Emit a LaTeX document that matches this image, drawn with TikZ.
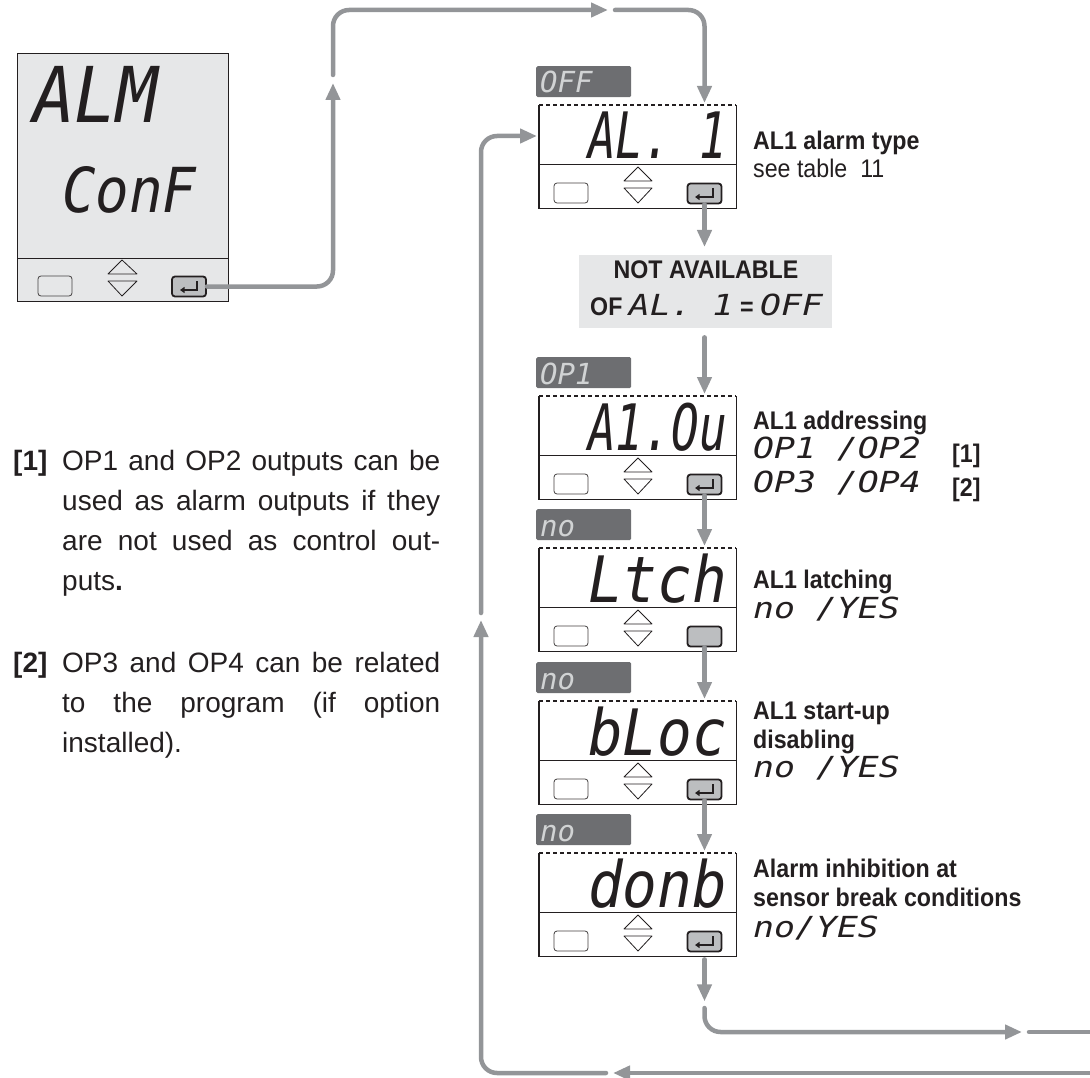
\documentclass[tikz,border=0pt]{standalone}
\usepackage{fontspec}
\setmainfont{Liberation Sans}
\newfontfamily\cndfam[FakeStretch=0.91]{Liberation Sans}
\newfontfamily\segnar[FakeStretch=0.72]{DejaVu Sans Mono}
\newfontfamily\segwid[FakeStretch=0.9]{DejaVu Sans Mono}
\newfontfamily\segmid{DejaVu Sans Mono}
\newfontfamily\segext[FakeStretch=1.2]{DejaVu Sans Mono}
\usetikzlibrary{arrows.meta,calc}
\definecolor{cgray}{HTML}{939598}
\definecolor{lgray}{HTML}{E6E7E8}
\definecolor{dgray}{HTML}{6D6E71}
\definecolor{bgray}{HTML}{BCBEC0}
\definecolor{ink}{HTML}{231F20}
\definecolor{segl}{HTML}{D1D3D4}
\newcommand\boldc{\cndfam\bfseries\fontsize{25.5}{30}\selectfont}
\newcommand\regc{\cndfam\fontsize{25.5}{30}\selectfont}
\newcommand\sevs{\segmid\mdseries\itshape\fontsize{29}{30}\selectfont}
\newcommand\sevr{\segext\mdseries\itshape\fontsize{29}{30}\selectfont}
\newcommand\sevbig{\segwid\mdseries\itshape\fontsize{64}{66}\selectfont}
\newcommand\sevbign{\segnar\mdseries\itshape\fontsize{64}{66}\selectfont}
\newcommand{\mkdisp}[5]{%
  \node[lab] (#1l) at (536,{#2-39}) {};
  \node[txt,text=segl] (#1lt) at (540,{#2-12}) {\sevs #4};
  \node[dbox] (#1) at (539,#2) {};
  \draw[frame] (#1.north west) -- (#1.south west) -- (#1.south east) -- (#1.north east);
  \draw[frame,dash pattern=on 4pt off 3pt] (#1.north west) -- (#1.north east);
  \draw[draw=ink,line width=0.9pt] ($(#1.north west)+(0,59)$) -- ($(#1.north east)+(0,59)$);
  \node[txt,anchor=base east] (#1d) at (727,{#2+54}) {#3};
  \node[lbtn] (#1b) at (571,{#2+88}) {};
  \draw[tri] (624,{#2+76}) -- (638,{#2+62}) -- (652,{#2+76}) -- cycle;
  \draw[tri] (624,{#2+83}) -- (638,{#2+98}) -- (652,{#2+83}) -- cycle;
  \node[ebtn] (#1e) at (704.5,{#2+88.5}) {};
  \ifnum#5=1 \draw[esym] (713,{#2+83}) -- (713,{#2+92}) -- (695,{#2+92});\fi
}
\begin{document}
\begin{tikzpicture}[x=1pt,y=-1pt,
  conn/.style={draw=cgray,line width=4.5pt,line cap=round},
  arr/.style={conn,-{Triangle[length=17pt,width=14pt]}},
  frame/.style={draw=ink,line width=1.1pt},
  dbox/.style={inner sep=0pt,minimum width=197pt,minimum height=103pt,anchor=north west,fill=white},
  lbtn/.style={draw=ink!85,line width=0.8pt,rounded corners=3pt,minimum width=34pt,minimum height=20pt,inner sep=0pt},
  ebtn/.style={draw=ink,fill=bgray,line width=1.8pt,rounded corners=3pt,minimum width=34pt,minimum height=20pt,inner sep=0pt},
  tri/.style={draw=ink,line width=0.8pt,line join=round},
  esym/.style={draw=ink,line width=1.5pt,-{Triangle[length=4.5pt,width=6pt]}},
  lab/.style={fill=dgray,rounded corners=1.5pt,minimum width=95pt,minimum height=31pt,inner sep=0pt,anchor=north west},
  txt/.style={inner sep=0pt,anchor=base west,text=ink},
]
\useasboundingbox (0,0) rectangle (1090,1078);

% left display
\node[fill=lgray,draw=ink,line width=1.1pt,minimum width=211pt,minimum height=248pt,anchor=north west,inner sep=0pt] (d0) at (17,53) {};
\draw[draw=ink,line width=0.9pt] ($(d0.north west)+(0,205)$) -- ($(d0.north east)+(0,205)$);
\node[txt] (d0a) at (33,123) {\segwid\itshape\fontsize{77}{80}\selectfont ALM};
\node[txt] (d0b) at (62,213) {\segwid\itshape\fontsize{62}{64}\selectfont ConF};
\node[lbtn] (d0l) at (55,286) {};
\draw[tri] (108,274) -- (122,260) -- (137,274) -- cycle;
\draw[tri] (108,281) -- (122,296) -- (137,281) -- cycle;
\node[ebtn] (d0e) at (189,286.5) {};
\draw[esym] (197,281) -- (197,290) -- (180,290);

% displays
\mkdisp{b1}{105}{\sevbign AL.\ 1}{OFF}{1}
\mkdisp{b2}{396}{\sevbign A1.Ou}{OP1}{1}
\mkdisp{b3}{548}{\sevbig Ltch}{no}{0}
\mkdisp{b4}{701}{\sevbig bLoc}{no}{1}
\mkdisp{b5}{853}{\sevbig donb}{no}{1}

% not available
\node[fill=lgray,inner sep=0pt,minimum width=253pt,minimum height=73pt,anchor=north west] (na) at (579,255) {};
\node[txt,anchor=base] (na1) at (706,278) {\boldc NOT AVAILABLE};
\node[txt] (na2) at (590,315) {\boldc OF\ {\sevr AL.\ 1}\ =\ {\sevr OFF}};

% right texts
\node[txt] (t1a) at (753,150) {\boldc AL1 alarm type};
\node[txt] (t1b) at (753,178) {\regc see table\ \ 11};
\node[txt] (t2a) at (753,429) {\boldc AL1 addressing};
\node[txt] (t2b) at (753,458) {\sevr OP1 /OP2};
\node[txt] (t2c) at (753,492) {\sevr OP3 /OP4};
\node[txt] (t2d) at (952,462) {\boldc [1]};
\node[txt] (t2e) at (952,496) {\boldc [2]};
\node[txt] (t3a) at (753,588) {\boldc AL1 latching};
\node[txt] (t3b) at (753,618) {\sevr no /YES};
\node[txt] (t4a) at (753,719) {\boldc AL1 start-up};
\node[txt] (t4b) at (753,748) {\boldc disabling};
\node[txt] (t4c) at (753,777) {\sevr no /YES};
\node[txt] (t5a) at (753,877) {\boldc Alarm inhibition at};
\node[txt] (t5b) at (753,906) {\boldc sensor break conditions};
\node[txt] (t5c) at (753,937) {\sevr no/YES};

% notes
\node[txt] (n1) at (13,470) {\bfseries\fontsize{28}{40}\selectfont [1]};
\node[txt] (p1) at (62,470) {\parbox[t]{378pt}{\fontsize{28}{40}\selectfont OP1 and OP2 outputs can be\linebreak used as alarm outputs if they\linebreak are not used as control out-\linebreak puts\textbf{.}}};
\node[txt] (n2) at (13,672) {\bfseries\fontsize{28}{40}\selectfont [2]};
\node[txt] (p2) at (62,672) {\parbox[t]{378pt}{\fontsize{28}{40}\selectfont OP3 and OP4 can be related\linebreak to the program (if option\linebreak installed).}};

% connectors
\coordinate (k1) at (333,83);
\draw[arr,rounded corners=16pt] (d0e.east) -| (k1);
\coordinate (k2) at (333,75);
\coordinate (k3) at (608,10);
\draw[arr,rounded corners=16pt] (k2) |- (k3);
\coordinate (k4) at (615,10);
\draw[arr,rounded corners=16pt] (k4) -| ([yshift=2pt]b1e |- b1.north);
\draw[arr] (b1e.south) -- ([yshift=8pt]b1e |- na.north);
\draw[arr] ([yshift=-9pt]b1e |- na.south) -- ([yshift=2pt]b1e |- b2.north);
\draw[arr] (b2e.south) -- ([yshift=2pt]b2e |- b3.north);
\draw[arr] (b3e.south) -- ([yshift=2pt]b3e |- b4.north);
\draw[arr] (b4e.south) -- ([yshift=2pt]b4e |- b5.north);
\draw[arr] ([yshift=-3pt]b5e |- b5.south) -- ([yshift=-45pt]b5e |- b5.south);
\coordinate (k5) at (704.5,1008);
\coordinate (k6) at (1022,1032);
\draw[arr,rounded corners=16pt] (k5) |- (k6);
\coordinate (k7) at (1029,1032);
\coordinate (k8) at (1096,1032);
\draw[conn] (k7) -- (k8);
\coordinate (k9) at (1096,1073);
\coordinate (k10) at (613,1073);
\draw[arr] (k9) -- (k10);
\coordinate (k11) at (606,1073);
\coordinate (k12) at (481,620);
\draw[arr,rounded corners=16pt] (k11) -| (k12);
\coordinate (k13) at (481,613);
\draw[arr,rounded corners=16pt] (k13) |- ([xshift=-2pt,yshift=-31pt]b1.north west);
\end{tikzpicture}
\end{document}
